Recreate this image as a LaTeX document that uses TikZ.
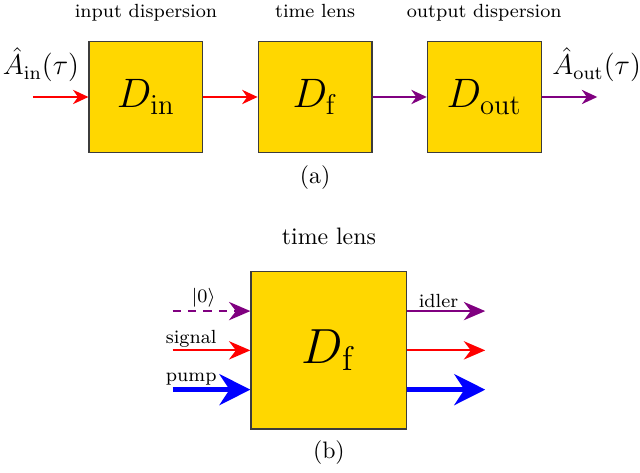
\documentclass[tikz,border=0pt]{standalone}
\usepackage{tikz}
\usetikzlibrary{arrows.meta,positioning,calc}
\definecolor{lensFill}{RGB}{255,215,0}
\definecolor{idlerPurple}{RGB}{128,0,128}
\definecolor{boxLine}{RGB}{60,60,60}
\tikzset{
  dispbox/.style={rectangle, draw=boxLine, fill=lensFill, line width=0.5pt,
    minimum width=1.68cm, minimum height=1.65cm, font=\LARGE, inner sep=0pt},
  lensbox/.style={dispbox, minimum width=2.30cm, minimum height=2.32cm, font=\huge},
  boxlabel/.style={font=\footnotesize, text height=1.6ex, text depth=0.45ex, inner sep=2pt},
  beamlabel/.style={font=\footnotesize, inner sep=1pt},
  caption/.style={font=\normalsize},
  beama/.style={-{Stealth[length=6.5pt,width=6pt]}, line width=0.8pt},
  beamb/.style={-{Stealth[length=9pt,width=7.7pt]}, line width=0.9pt},
  pumpbeam/.style={-{Stealth[length=13pt,width=13pt]}, line width=2pt, draw=blue},
  vacbeam/.style={beamb, draw=idlerPurple, dash pattern=on 3.5pt off 3pt},
}
\begin{document}
\begin{tikzpicture}
  \useasboundingbox (0,0) rectangle (9.45,-6.98);

  % (a) dispersion - lens - dispersion
  \node[dispbox] (din) at (2.155,-1.432) {$D_{\mathrm{in}}$};
  \node[dispbox, right=0.80cm of din] (df) {$D_{\mathrm{f}}$};
  \node[dispbox, right=0.80cm of df] (dout) {$D_{\mathrm{out}}$};

  \node[boxlabel, above=0.2cm of din] (ldin) {input dispersion};
  \node[boxlabel, above=0.2cm of df] (ldf) {time lens};
  \node[boxlabel, above=0.2cm of dout] (ldout) {output dispersion};

  \coordinate (ain) at (0.487,-1.432);
  \coordinate[right=0.82cm of dout.east] (aout);
  \node[font=\large] (tin) at (0.605,-0.96) {$\hat{A}_{\mathrm{in}}(\tau)$};
  \node[font=\large] (tout) at (8.81,-0.96) {$\hat{A}_{\mathrm{out}}(\tau)$};

  \draw[beama, draw=red] (ain) -- (din.west);
  \draw[beama, draw=red] (din.east) -- (df.west);
  \draw[beama, draw=idlerPurple] (df.east) -- (dout.west);
  \draw[beama, draw=idlerPurple] (dout.east) -- (aout);

  \node[caption, below=0.05cm of df] (capa) {(a)};

  % (b) time lens with three waves
  \node[lensbox] (lens) at (4.856,-5.173) {$D_{\mathrm{f}}$};
  \node[caption, above=0.26cm of lens] (tlens) {time lens};
  \node[caption, below=0.04cm of lens] (capb) {(b)};

  \coordinate (vacin) at ($(lens.west)+(-1.15,0.58)$);
  \coordinate (sigin) at ($(lens.west)+(-1.15,0)$);
  \coordinate (pumpin) at ($(lens.west)+(-1.15,-0.58)$);
  \coordinate (idlout) at ($(lens.east)+(1.15,0.58)$);
  \coordinate (sigout) at ($(lens.east)+(1.15,0)$);
  \coordinate (pumpout) at ($(lens.east)+(1.15,-0.58)$);

  \draw[vacbeam] (vacin) -- node[beamlabel, above, pos=0.4] {$|0\rangle$} (vacin -| lens.west);
  \draw[beamb, draw=red] (sigin) -- node[beamlabel, above, pos=0.24] {signal} (lens.west);
  \draw[pumpbeam] (pumpin) -- node[beamlabel, above, pos=0.24] {pump} (pumpin -| lens.west);

  \draw[beamb, draw=idlerPurple] (idlout -| lens.east) -- node[beamlabel, above, pos=0.4] {idler} (idlout);
  \draw[beamb, draw=red] (lens.east) -- (sigout);
  \draw[pumpbeam] (pumpout -| lens.east) -- (pumpout);
\end{tikzpicture}
\end{document}
